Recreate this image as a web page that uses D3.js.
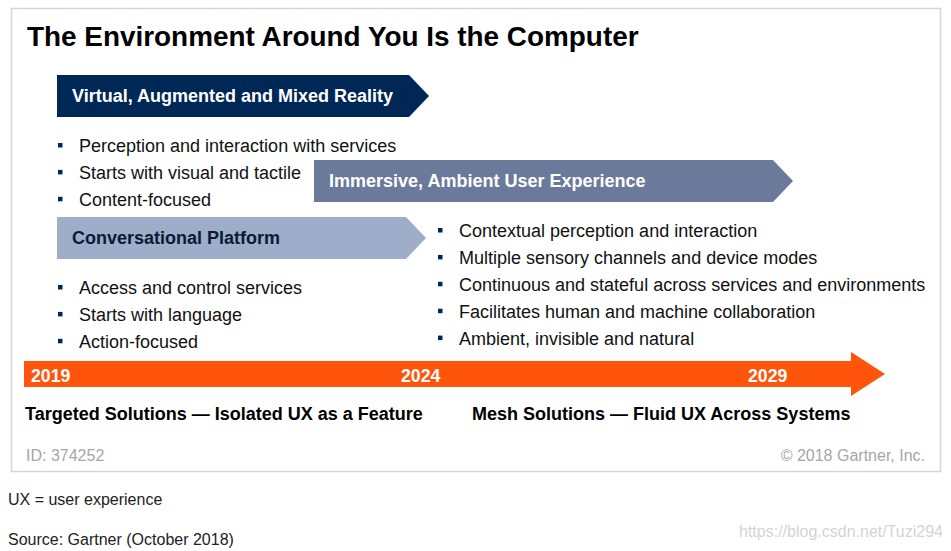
<!DOCTYPE html>
<html>
<head>
<meta charset="utf-8">
<script src="https://cdn.jsdelivr.net/npm/d3@7"></script>
<style>
    body { margin: 0; background: #fff; }
    svg { display: block; font-family: "Liberation Sans", Arial, sans-serif; }
</style>
</head>
<body>
<svg id="chart"></svg>
<script>
// ===============================
// Data
// ===============================
const title = "The Environment Around You Is the Computer";

const phases = [
    "Virtual, Augmented and Mixed Reality",
    "Immersive, Ambient User Experience",
    "Conversational Platform"
];

const realityBullets = [
    "Perception and interaction with services",
    "Starts with visual and tactile",
    "Content-focused"
];

const conversationBullets = [
    "Access and control services",
    "Starts with language",
    "Action-focused"
];

const ambientBullets = [
    "Contextual perception and interaction",
    "Multiple sensory channels and device modes",
    "Continuous and stateful across services and environments",
    "Facilitates human and machine collaboration",
    "Ambient, invisible and natural"
];

const years = [2019, 2024, 2029];

const eras = [
    "Targeted Solutions \u2014 Isolated UX as a Feature",
    "Mesh Solutions \u2014 Fluid UX Across Systems"
];

const docId = "ID: 374252";
const copyright = "\u00a9 2018 Gartner, Inc.";
const footnotes = ["UX = user experience", "Source: Gartner (October 2018)"];
const watermark = "https://blog.csdn.net/Tuzi294";


// ===============================
// Setup
// ===============================
const width = 951,
      height = 551;

const svg = d3.select("#chart")
    .attr("width", width)
    .attr("height", height);

const navy = "#002856",
      slate = "#6b7a9b",
      pale = "#9dadca",
      orange = "#ff540b";

// frame
svg.append("rect")
    .attr("x", 11.5)
    .attr("y", 8.5)
    .attr("width", 929)
    .attr("height", 463)
    .attr("fill", "#fff")
    .attr("stroke", "#d6d6d6")
    .attr("stroke-width", 1.5);

svg.append("text")
    .attr("x", 27)
    .attr("y", 46)
    .attr("font-size", 27.9)
    .attr("font-weight", "bold")
    .attr("fill", "#000")
    .text(title);


// ===============================
// Chevron arrows (phases)
// ===============================
const arrowPath = (x0, x1, y0, h, tip) =>
    `M${x0},${y0}H${x1}L${x1 + tip},${y0 + h / 2}L${x1},${y0 + h}H${x0}Z`;

const phaseBoxes = [
    { x0: 57, x1: 409, y: 75, fill: navy, color: "#fff" },
    { x0: 314, x1: 773, y: 160, fill: slate, color: "#fff" },
    { x0: 57, x1: 406, y: 217, fill: pale, color: "#0b1a33" }
];

const phaseG = svg.selectAll("g.phase")
    .data(phases)
    .enter()
    .append("g")
    .attr("class", "phase");

phaseG.append("path")
    .attr("d", (d, i) => arrowPath(phaseBoxes[i].x0, phaseBoxes[i].x1, phaseBoxes[i].y, 42, 20))
    .attr("fill", (d, i) => phaseBoxes[i].fill);

phaseG.append("text")
    .attr("x", (d, i) => phaseBoxes[i].x0 + 15)
    .attr("y", (d, i) => phaseBoxes[i].y + 27)
    .attr("font-size", 18)
    .attr("font-weight", "bold")
    .attr("fill", (d, i) => phaseBoxes[i].color)
    .text(d => d);


// ===============================
// Bullet lists
// ===============================
const row = d3.scaleLinear().domain([0, 1]).range([0, 26.9]);

function bulletList(items, x, y0) {
    const g = svg.append("g");

    const item = g.selectAll("g")
        .data(items)
        .enter()
        .append("g")
        .attr("transform", (d, i) => `translate(${x}, ${y0 + row(i)})`);

    item.append("rect")
        .attr("x", 0)
        .attr("y", -9)
        .attr("width", 4.5)
        .attr("height", 4.5)
        .attr("fill", navy);

    item.append("text")
        .attr("x", 21)
        .attr("y", 0)
        .attr("font-size", 18)
        .attr("fill", "#111")
        .text(d => d);
}

bulletList(realityBullets, 58, 152);
bulletList(conversationBullets, 58, 294);
bulletList(ambientBullets, 438, 237);


// ===============================
// Timeline arrow
// ===============================
const yearX = d3.scaleLinear()
    .domain(years)
    .range([31, 401, 748]);

svg.append("path")
    .attr("d", "M24,361H851V352L885,374L851,396V387H24Z")
    .attr("fill", orange);

svg.selectAll("text.year")
    .data(years)
    .enter()
    .append("text")
    .attr("class", "year")
    .attr("x", d => yearX(d))
    .attr("y", 382)
    .attr("font-size", 17.7)
    .attr("font-weight", "bold")
    .attr("fill", "#fff")
    .text(d => d);

svg.selectAll("text.era")
    .data(eras)
    .enter()
    .append("text")
    .attr("class", "era")
    .attr("x", (d, i) => [25, 472][i])
    .attr("y", 420)
    .attr("font-size", 18)
    .attr("font-weight", "bold")
    .attr("fill", "#000")
    .text(d => d);


// ===============================
// Footer
// ===============================
svg.append("text")
    .attr("x", 26)
    .attr("y", 461)
    .attr("font-size", 16)
    .attr("fill", "#a6a6a6")
    .text(docId);

svg.append("text")
    .attr("x", 925)
    .attr("y", 461)
    .attr("text-anchor", "end")
    .attr("font-size", 16)
    .attr("fill", "#a6a6a6")
    .text(copyright);

svg.selectAll("text.note")
    .data(footnotes)
    .enter()
    .append("text")
    .attr("class", "note")
    .attr("x", 8)
    .attr("y", (d, i) => 505 + i * 40)
    .attr("font-size", 16)
    .attr("fill", "#222")
    .text(d => d);

svg.append("text")
    .attr("x", 943)
    .attr("y", 537)
    .attr("text-anchor", "end")
    .attr("font-size", 16)
    .attr("fill", "#d4d4d4")
    .text(watermark);
</script>
</body>
</html>
